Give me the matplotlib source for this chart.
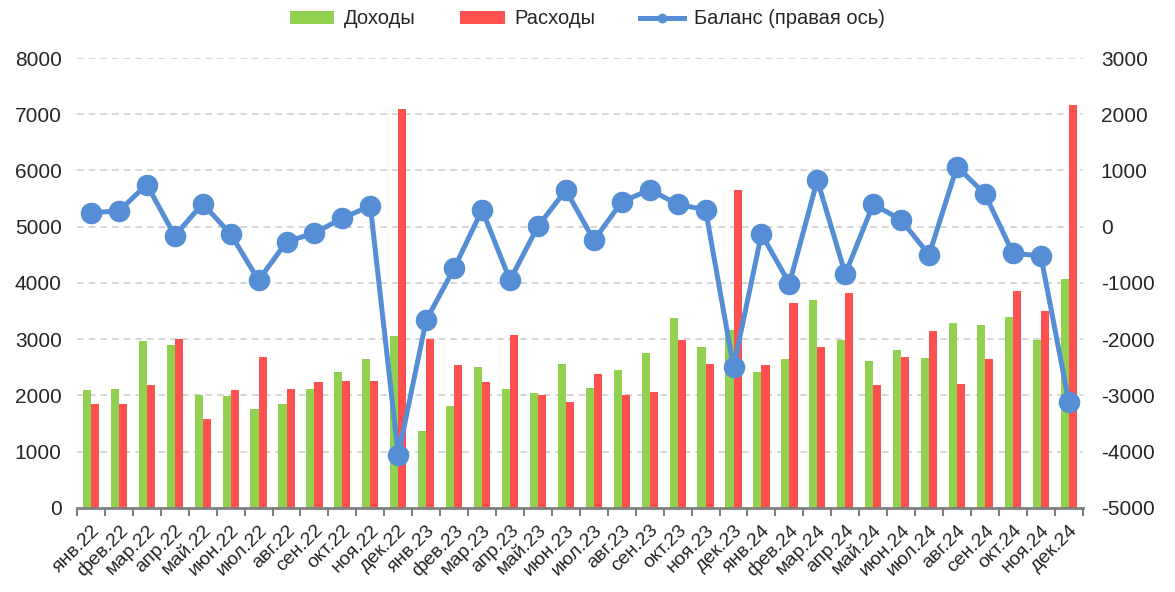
import matplotlib
matplotlib.use("Agg")
import matplotlib.pyplot as plt
import numpy as np
from matplotlib.lines import Line2D
from matplotlib.patches import Patch
from matplotlib.ticker import FixedLocator

plt.rcParams["font.family"] = ["Liberation Sans Narrow", "Liberation Sans", "DejaVu Sans"]
plt.rcParams["axes.unicode_minus"] = False

months = ["янв", "фев", "мар", "апр", "май", "июн",
          "июл", "авг", "сен", "окт", "ноя", "дек"]
labels = [f"{m}.{y}" for y in ("22", "23", "24") for m in months]

income = [2090, 2110, 2960, 2890, 2010, 1990, 1760, 1840, 2110, 2410, 2640, 3050,
          1360, 1810, 2510, 2110, 2040, 2560, 2140, 2460, 2760, 3380, 2860, 3160,
          2410, 2640, 3700, 2990, 2610, 2810, 2660, 3280, 3260, 3400, 2990, 4070]
expenses = [1840, 1840, 2180, 3010, 1590, 2090, 2690, 2110, 2240, 2260, 2260, 7090,
            3010, 2540, 2240, 3080, 2010, 1890, 2390, 2010, 2060, 2980, 2560, 5650,
            2540, 3650, 2860, 3820, 2180, 2690, 3150, 2210, 2640, 3850, 3500, 7170]
balance = [250, 280, 750, -160, 410, -130, -950, -270, -110, 150, 370, -4060,
           -1660, -740, 300, -950, 10, 650, -240, 440, 660, 400, 300, -2500,
           -130, -1010, 830, -840, 400, 120, -500, 1070, 580, -470, -520, -3110]

GREEN = "#92D050"
RED = "#FF5050"
BLUE = "#558ED5"
TEXT = "#262626"

x = np.arange(len(labels))
w = 0.29

fig = plt.figure(figsize=(11.75, 5.92), dpi=100)
ax = fig.add_axes([0.0655, 0.142, 0.856, 0.760])
ax.set_zorder(1)
ax.patch.set_visible(False)

ax.bar(x - w / 2, income, w, color=GREEN, zorder=2)
ax.bar(x + w / 2, expenses, w, color=RED, zorder=2)

ax.set_xlim(-0.5, len(labels) - 0.5)
ax.set_ylim(0, 8000)
ax.set_yticks(range(0, 8001, 1000))
ax.yaxis.grid(True, linestyle=(0, (4, 3)), color="#D0D0D0", linewidth=1.2, zorder=0)
ax.set_axisbelow(True)

ax.set_xticks(x)
ax.set_xticklabels(labels, rotation=45, ha="right", rotation_mode="anchor",
                   fontsize=14, color=TEXT)
ax.xaxis.set_minor_locator(FixedLocator(np.arange(-0.5, len(labels), 1.0)))
ax.tick_params(axis="x", which="major", length=0, pad=10)
ax.tick_params(axis="x", which="minor", length=6, width=1.5, color="#808080")
ax.tick_params(axis="y", length=0, labelsize=15, pad=11, labelcolor=TEXT)

for s in ("top", "left", "right"):
    ax.spines[s].set_visible(False)
ax.spines["bottom"].set_color("#808080")
ax.spines["bottom"].set_linewidth(2)

ax2 = ax.twinx()
ax2.set_zorder(2)
ax2.plot(x, balance, color=BLUE, linewidth=3.6, marker="o", markersize=14.5, zorder=3)
ax2.set_ylim(-5000, 3000)
ax2.set_yticks(range(-5000, 3001, 1000))
ax2.tick_params(axis="y", length=0, labelsize=15, pad=13, labelcolor=TEXT)
for s in ("top", "left", "right", "bottom"):
    ax2.spines[s].set_visible(False)

handles = [
    Patch(facecolor=GREEN),
    Patch(facecolor=RED),
    Line2D([0], [0], color=BLUE, linewidth=3.6, marker="o", markersize=6),
]
fig.legend(handles, ["Доходы", "Расходы", "Баланс (правая ось)"],
           loc="center", bbox_to_anchor=(0.5, 0.968), ncol=3, frameon=False,
           fontsize=14.5, handlelength=2.2, handleheight=0.6, handletextpad=0.5,
           columnspacing=2.2, labelcolor=TEXT)

fig.savefig("out.png", dpi=100)
